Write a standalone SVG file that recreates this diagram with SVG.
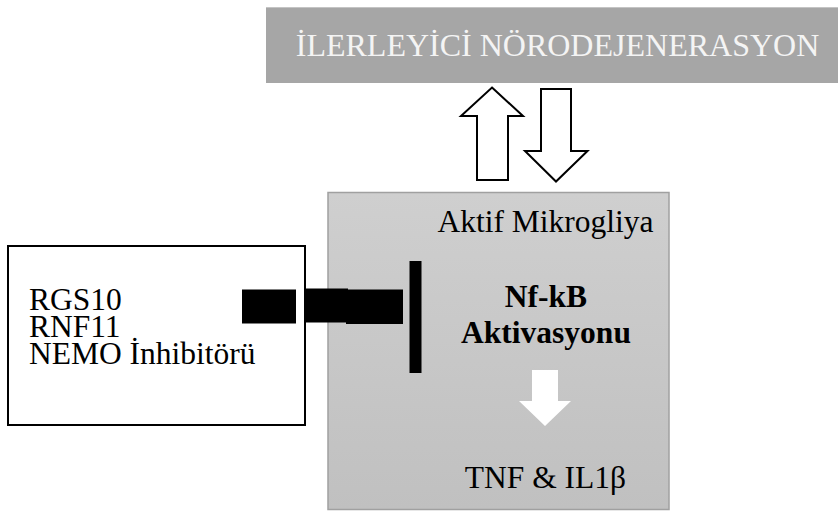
<svg xmlns="http://www.w3.org/2000/svg" width="838" height="511" viewBox="0 0 838 511">
<style>
text{font-family:"Liberation Serif","Times New Roman",serif;font-size:31.5px;fill:#000}
.c{text-anchor:middle}
.b{font-weight:bold}
.outline{fill:#fff;stroke:#000;stroke-width:2;stroke-linejoin:miter}
.bar{fill:#000}
</style>
<defs>
<linearGradient id="g" x1="0" y1="0" x2="0" y2="1">
<stop offset="0" stop-color="#cfcfcf"/>
<stop offset="1" stop-color="#c0c0c0"/>
</linearGradient>
</defs>
<rect width="838" height="511" fill="#fff"/>
<g id="neuro">
<rect x="266" y="7" width="572" height="76" fill="#a6a6a6"/>
<line x1="266" y1="7.5" x2="838" y2="7.5" stroke="#c4c4c4" stroke-width="1"/>
<text class="c" x="557.5" y="56" style="fill:#f4f4f4;font-size:32px">İLERLEYİCİ NÖRODEJENERASYON</text>
</g>
<g id="microglia">
<rect x="328" y="192.5" width="341" height="317" fill="url(#g)" stroke="#a0a0a0" stroke-width="1.5"/>
<text class="c" x="545.5" y="232">Aktif Mikrogliya</text>
<text class="c b" x="546" y="307">Nf-kB<tspan x="546" y="343">Aktivasyonu</tspan></text>
<polygon points="532,370 558,370 558,401 571,401 545,426 519,401 532,401" fill="#fff"/>
<text class="c" x="545.5" y="488">TNF &amp; IL1β</text>
</g>
<g id="inhibitors">
<rect x="8" y="246" width="297" height="179" fill="#fff" stroke="#000" stroke-width="2"/>
<text x="29" y="310">RGS10<tspan x="29" y="337">RNF11</tspan><tspan x="29" y="364">NEMO İnhibitörü</tspan></text>
</g>
<g id="connectors">
<polygon class="outline" points="492,87.5 523,116 508,116 508,180 477,180 477,116 461,116"/>
<polygon class="outline" points="541,89 571,89 571,151 587.5,151 556,181.5 525,151 541,151"/>
<rect class="bar" x="242" y="289.5" width="54" height="34"/>
<rect class="bar" x="305" y="288.5" width="43" height="34"/>
<rect class="bar" x="346" y="289.5" width="57" height="34.5"/>
<rect class="bar" x="409.5" y="261" width="12" height="112"/>
</g>
</svg>
